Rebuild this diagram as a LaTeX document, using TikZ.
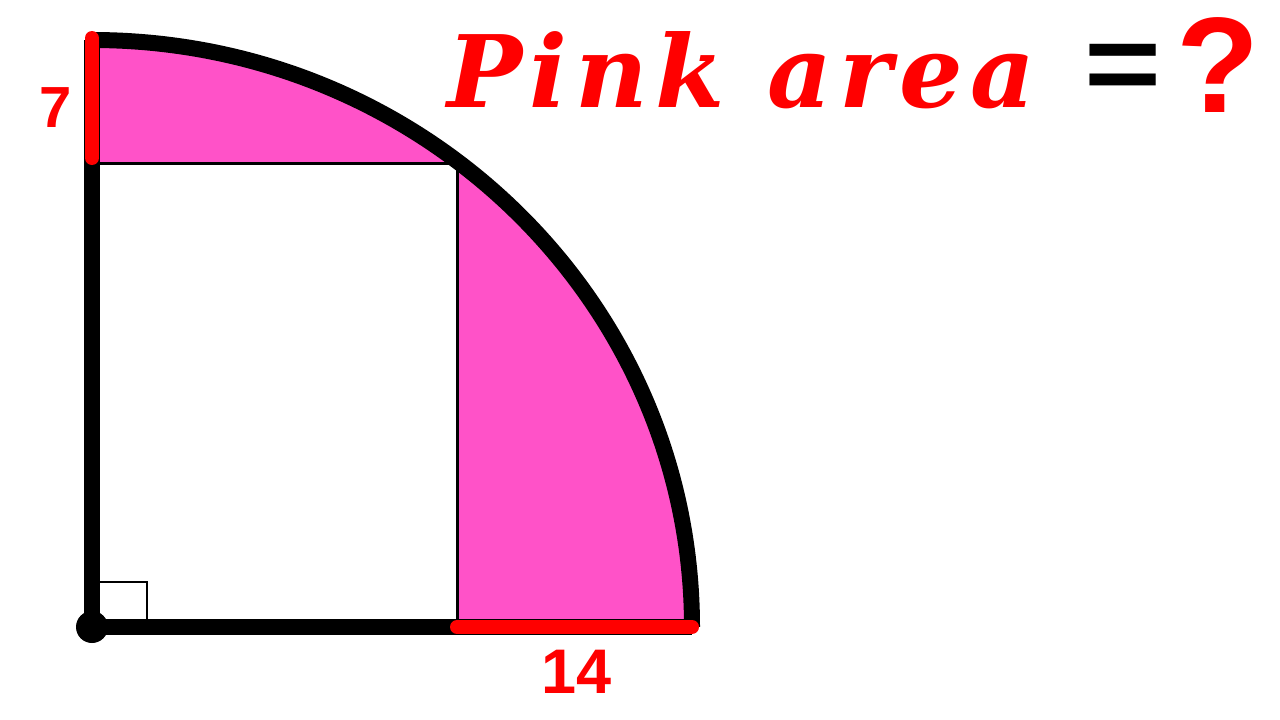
\documentclass[tikz,border=0pt]{standalone}
\usepackage{fontspec}
\newfontfamily\labfont{Liberation Sans}
\newfontfamily\titlefont[LetterSpace=7.5]{DejaVu Serif}
\definecolor{pinkc}{RGB}{255,82,200}
\definecolor{redc}{RGB}{255,0,0}
\tikzset{
  thick line/.style={line width=16pt, black},
  thin line/.style={line width=3pt, black},
  red seg/.style={line width=14pt, redc, line cap=round},
  numlabel/.style={text=redc, font=\labfont\bfseries\fontsize{58}{58}\selectfont, inner sep=0pt},
}
\begin{document}
\begin{tikzpicture}[x=1pt,y=-1pt]
\useasboundingbox (0,0) rectangle (1280,720);
\fill[white] (0,0) rectangle (1280,720);
% key points
\coordinate (O) at (92,627);
\coordinate (T) at (92,40);
\coordinate (E) at (692,627);
\coordinate (C) at (457,163);
\coordinate (L) at (92,163);
\coordinate (B) at (457,627);
\coordinate (Rt) at (92,38);
\coordinate (Rb) at (92,158);
% pink quarter ellipse
\fill[pinkc] (O) -- (T) arc[start angle=90, end angle=0, x radius=600pt, y radius=587pt] -- cycle;
\fill[white] (O) rectangle (C);
% rectangle edges
\draw[thin line] (L) -- (C) -- (B);
% right angle mark
\draw[line width=2.5pt] (92,582) -- (147,582) -- (147,627);
% thick outline
\draw[thick line] (T) arc[start angle=90, end angle=0, x radius=600pt, y radius=587pt];
\draw[thick line] (T) -- (O) -- (E);
\fill[black] (O) circle[radius=16pt];
% red segments
\draw[red seg] (Rt) -- (Rb);
\draw[red seg] (B) -- (E);
% labels
\node[numlabel] (seven) at (56,108) {7};
\node[numlabel, font=\labfont\bfseries\fontsize{63}{63}\selectfont] (fourteen) at (577,672) {14};
\node[text=redc, inner sep=0pt, font=\titlefont\bfseries\itshape\fontsize{100}{100}\selectfont, anchor=base west] (title) at (447,107) {Pink area};
\node[inner sep=0pt, xscale=1.2, font=\labfont\bfseries\fontsize{110}{110}\selectfont] (eq) at (1123,73) {=};
\node[text=redc, inner sep=0pt, font=\labfont\bfseries\fontsize{136}{136}\selectfont, anchor=base] (q) at (1218,112) {?};
\end{tikzpicture}
\end{document}
